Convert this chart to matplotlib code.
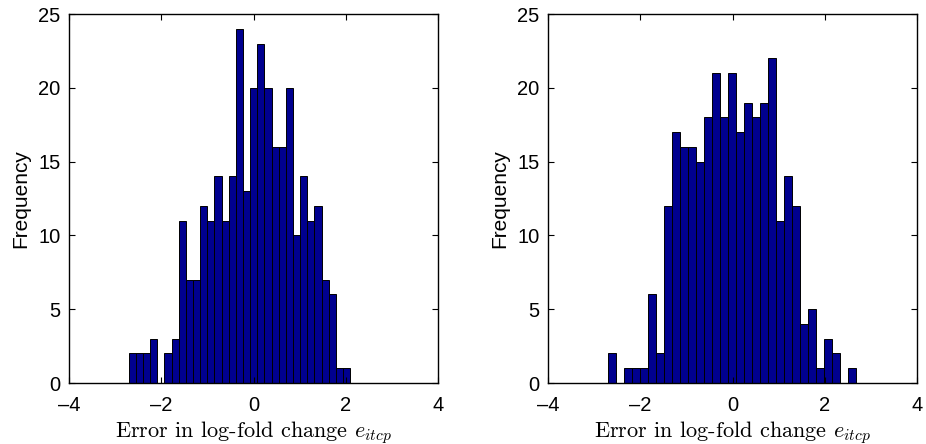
import numpy as np
import matplotlib
matplotlib.use("Agg")
import matplotlib.pyplot as plt

plt.rcParams['font.family'] = ['Liberation Sans', 'DejaVu Sans']
plt.rcParams['mathtext.fontset'] = 'cm'

# bin range and counts (31 bins each)
left_range = (-2.707, 2.094)
left_counts = [2, 2, 2, 3, 0, 2, 3, 11, 7, 7, 12, 11, 14, 11, 14, 24,
               13, 20, 23, 20, 16, 16, 20, 10, 14, 11, 12, 7, 6, 1, 1]

right_range = (-2.709, 2.683)
right_counts = [2, 0, 1, 1, 1, 6, 2, 12, 17, 16, 16, 15, 18, 21, 18, 21,
                17, 19, 18, 19, 22, 11, 14, 12, 4, 5, 1, 3, 2, 0, 1]

x_ticks = [-4, -2, 0, 2, 4]
y_ticks = [0, 5, 10, 15, 20, 25]
bar_color = '#00008f'


def draw_hist(ax, rng, counts):
    edges = np.linspace(rng[0], rng[1], len(counts) + 1)
    ax.bar(edges[:-1], counts, width=np.diff(edges), align='edge',
           color=bar_color, edgecolor='black', linewidth=0.7)
    ax.set_xlim(-4, 4)
    ax.set_ylim(0, 25)
    ax.set_xticks(x_ticks)
    ax.set_yticks(y_ticks)
    ax.set_xticklabels(['\u20134', '\u20132', '0', '2', '4'])
    ax.tick_params(direction='in', top=True, right=True, length=4,
                   width=0.8, labelsize=14.5, pad=6)
    ax.tick_params(axis='x', pad=9)
    for s in ax.spines.values():
        s.set_linewidth(1.0)
    ax.set_ylabel('Frequency', fontsize=15, labelpad=6)
    ax.set_xlabel('Error in log-fold change $e_{itcp}$', fontsize=16,
                  family='cmr10', labelpad=3)


fig = plt.figure(figsize=(9.26, 4.44), dpi=100)
ax1 = fig.add_axes([69 / 926, 61 / 444, 369 / 926, 369 / 444])
ax2 = fig.add_axes([548 / 926, 61 / 444, 369 / 926, 369 / 444])

draw_hist(ax1, left_range, left_counts)
draw_hist(ax2, right_range, right_counts)

fig.savefig('out.png', dpi=100)
